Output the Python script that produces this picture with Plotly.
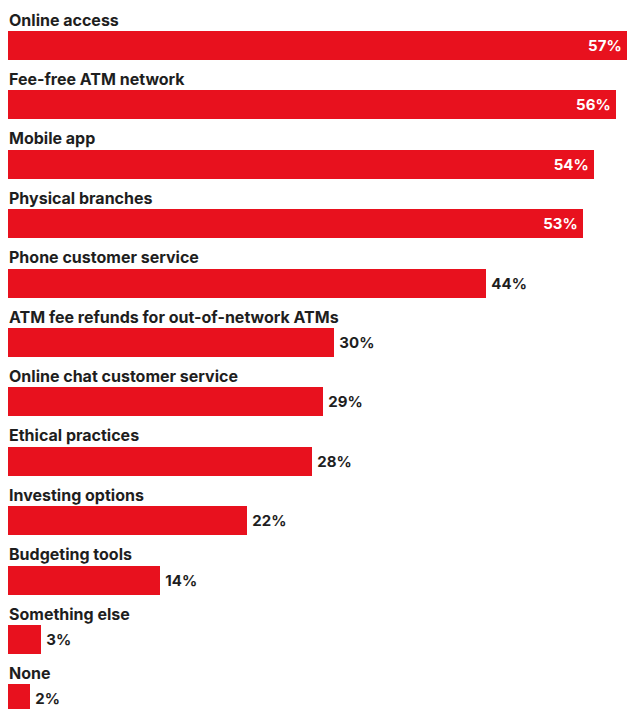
import plotly.graph_objects as go

categories = [
    "Online access",
    "Fee-free ATM network",
    "Mobile app",
    "Physical branches",
    "Phone customer service",
    "ATM fee refunds for out-of-network ATMs",
    "Online chat customer service",
    "Ethical practices",
    "Investing options",
    "Budgeting tools",
    "Something else",
    "None",
]
values = [57, 56, 54, 53, 44, 30, 29, 28, 22, 14, 3, 2]

RED = "#E8111E"
DARK = "#1E1E1E"
FONT = "Inter"

positions = ["inside" if v >= 50 else "outside" for v in values]
texts = [f"{v}%\u2009" if v >= 50 else f"\u2009{v}%" for v in values]

fig = go.Figure()
fig.add_trace(go.Bar(
    y=categories,
    x=values,
    orientation="h",
    marker=dict(color=RED, line=dict(width=0)),
    width=0.49,
    text=texts,
    textposition=positions,
    insidetextanchor="end",
    insidetextfont=dict(family=FONT, size=15, color="white", weight=700),
    outsidetextfont=dict(family=FONT, size=15, color=DARK, weight=700),
    cliponaxis=False,
    hoverinfo="skip",
))

for c in categories:
    fig.add_annotation(
        x=0, y=c, xref="x", yref="y",
        text=c, showarrow=False,
        xanchor="left", yanchor="middle",
        yshift=26, xshift=-1,
        font=dict(family=FONT, size=16, color=DARK, weight=700),
    )

fig.update_layout(
    width=628, height=709,
    margin=dict(l=8, r=0, t=0, b=0),
    paper_bgcolor="white", plot_bgcolor="white",
    showlegend=False,
    xaxis=dict(range=[0, 57.1], visible=False, fixedrange=True),
    yaxis=dict(type="category", categoryorder="array", categoryarray=categories,
               range=[11.17, -0.766], visible=False, fixedrange=True),
    bargap=0,
)

fig.write_html("out.html")
